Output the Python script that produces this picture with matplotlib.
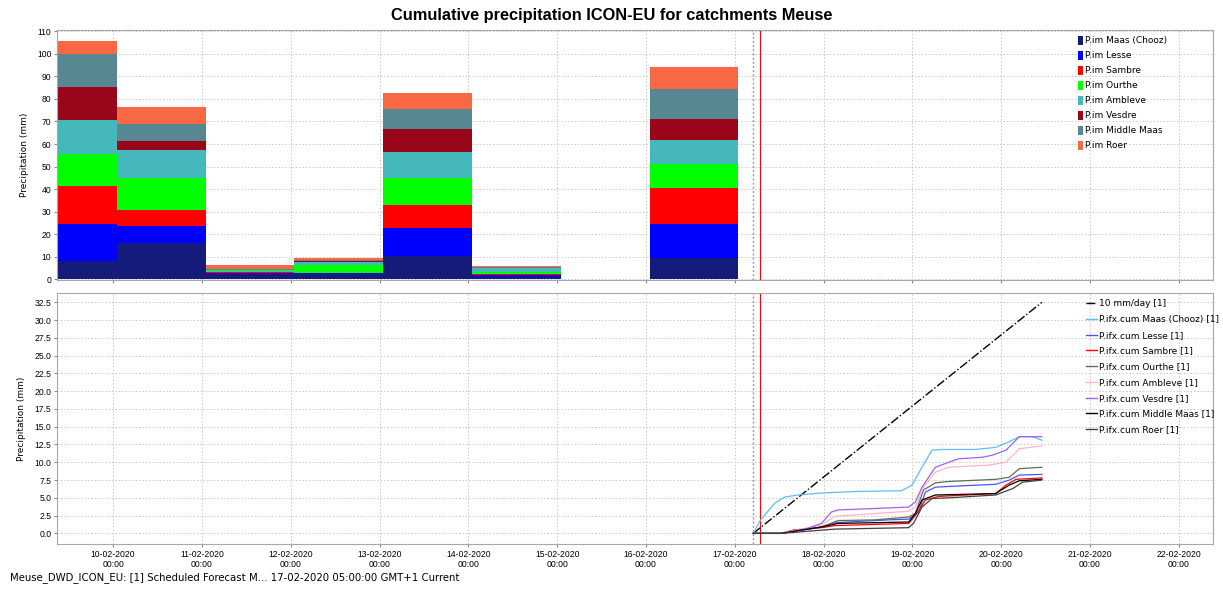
import numpy as np
import matplotlib
matplotlib.use('Agg')
from matplotlib import pyplot as plt
import matplotlib.dates as mdates
from matplotlib.patches import Patch
from matplotlib.lines import Line2D
from datetime import datetime

# daily precipitation per catchment (mm), one bar per day
bar_days = ['2020-02-09', '2020-02-10', '2020-02-11', '2020-02-12',
            '2020-02-13', '2020-02-14', '2020-02-15', '2020-02-16']
maas = [8.1, 16.1, 2.5, 2.5, 10.3, 1.0, 0, 9.6]
lesse = [16.6, 7.7, 0.4, 0.2, 12.3, 1.1, 0, 15.1]
sambre = [16.5, 6.8, 0.2, 0.3, 10.5, 0.1, 0, 15.7]
ourthe = [14.5, 14.3, 0.7, 3.2, 11.8, 1.1, 0, 10.9]
ambleve = [14.8, 12.3, 0.4, 1.6, 11.4, 1.8, 0, 10.3]
vesdre = [14.8, 4.1, 0.1, 0.2, 10.5, 0.1, 0, 9.7]
middle_maas = [14.5, 7.6, 0.4, 0.7, 8.9, 0.2, 0, 13.0]
roer = [5.7, 7.5, 1.7, 0.6, 6.8, 0.5, 0, 9.9]

bar_labels = ['P.im Maas (Chooz)', 'P.im Lesse', 'P.im Sambre', 'P.im Ourthe',
              'P.im Ambleve', 'P.im Vesdre', 'P.im Middle Maas', 'P.im Roer']

# cumulative forecast, hours since 17-02-2020 00:00
ref_h = [5, 83]
ref_v = [0, 32.5]
chooz_h = [5, 7, 10.7, 13.4, 17, 24.3, 33.3, 45.1, 47.9, 50.6, 53.3, 56, 65.1, 70.5, 74.2, 76.9, 80.5, 83]
chooz_v = [0, 1.9, 4.2, 5.1, 5.4, 5.7, 5.9, 6.0, 6.8, 9.3, 11.7, 11.8, 11.8, 12.1, 12.9, 13.6, 13.6, 13.1]
lesse_h = [5, 12.5, 23.4, 27.0, 41.5, 47.0, 49.7, 51.5, 54.2, 57.8, 70.5, 74.2, 76.9, 83]
lesse_v = [0, 0, 0.9, 1.5, 1.9, 2.0, 3.0, 5.8, 6.5, 6.6, 6.9, 7.5, 8.2, 8.3]
sambre_h = [5, 12.5, 16.1, 23.4, 27.0, 47.0, 49.2, 51.5, 55.1, 70.5, 73.3, 76.0, 83]
sambre_v = [0, 0, 0.5, 0.8, 1.1, 1.4, 2.8, 4.7, 5.2, 5.6, 6.8, 7.6, 7.8]
ourthe_h = [5, 12.5, 23.4, 27.9, 37.9, 47.0, 48.8, 51.0, 54.2, 57.8, 70.5, 74.2, 76.9, 83]
ourthe_v = [0, 0, 0.9, 1.8, 1.9, 2.3, 2.8, 6.1, 7.1, 7.3, 7.6, 7.9, 9.1, 9.3]
ambleve_h = [5, 12.5, 23.4, 27.0, 37.9, 47.0, 48.8, 51.0, 54.2, 57.8, 68.7, 73.3, 76.9, 83]
ambleve_v = [0, 0, 1.2, 2.4, 2.8, 3.1, 3.7, 6.5, 8.6, 9.3, 9.6, 10.0, 11.9, 12.3]
vesdre_h = [5, 12.5, 19.7, 23.4, 26.1, 27.9, 37.9, 47.0, 48.8, 50.6, 54.2, 57.8, 60.6, 66.9, 69.6, 73.3, 76.9, 83]
vesdre_v = [0, 0, 0.7, 1.4, 3.0, 3.3, 3.5, 3.7, 4.4, 6.5, 9.3, 10.0, 10.5, 10.7, 11.0, 11.7, 13.6, 13.6]
middle_h = [5, 12.5, 23.4, 27.9, 47.0, 48.8, 50.6, 54.2, 70.5, 74.2, 76.9, 83]
middle_v = [0, 0, 0.9, 1.4, 1.6, 2.8, 4.7, 5.4, 5.6, 6.8, 7.4, 7.6]
roer_h = [5, 12.5, 27.0, 47.0, 48.3, 50.6, 53.3, 57.8, 70.5, 75.1, 77.8, 83]
roer_v = [0, 0, 0.6, 0.8, 1.4, 3.7, 4.9, 5.0, 5.4, 6.3, 7.2, 7.5]

line_labels = ['10 mm/day [1]', 'P.ifx.cum Maas (Chooz) [1]', 'P.ifx.cum Lesse [1]',
               'P.ifx.cum Sambre [1]', 'P.ifx.cum Ourthe [1]', 'P.ifx.cum Ambleve [1]',
               'P.ifx.cum Vesdre [1]', 'P.ifx.cum Middle Maas [1]', 'P.ifx.cum Roer [1]']

bar_colors = ['#151b7a', '#0000ff', '#ff0000', '#00ff00',
              '#45b8bb', '#990519', '#578892', '#f96845']
line_colors = ['#5bc0f5', '#5050ff', '#ff0000', '#5a7050',
               '#ffb6c1', '#a060f0', '#000000', '#404040']

base = mdates.date2num(datetime(2020, 2, 17))
x_min = mdates.date2num(datetime(2020, 2, 9, 8, 50))
x_max = mdates.date2num(datetime(2020, 2, 22, 9, 10))
t_forecast = base + 5 / 24.
t_now = base + 6.75 / 24.

fig = plt.figure(figsize=(12.23, 5.92), dpi=100)
ax1 = fig.add_axes([0.0466, 0.527, 0.945, 0.4225])
ax2 = fig.add_axes([0.0466, 0.081, 0.945, 0.424])

grid_kw = dict(color='#c8c8c8', linestyle=(0, (1.5, 2)), linewidth=0.7)
for ax in (ax1, ax2):
    ax.set_xlim(x_min, x_max)
    ax.xaxis.set_major_locator(mdates.DayLocator())
    ax.xaxis.set_major_formatter(mdates.DateFormatter('%d-%m-%Y\n%H:%M'))
    ax.grid(True, **grid_kw)
    ax.set_axisbelow(True)
    for s in ax.spines.values():
        s.set_color('#a8a8a8')
    ax.tick_params(axis='both', labelsize=6.2, length=2, color='#888888', pad=2)
    for lbl in ax.get_xticklabels() + ax.get_yticklabels():
        lbl.set_family('Liberation Sans')
    ax.set_ylabel('Precipitation (mm)', fontsize=6.5, labelpad=6)
    ax.axvline(t_forecast, color='#999999', linestyle=(0, (1.5, 1.5)), linewidth=1)
    ax.axvline(t_now, color='#ff0000', linewidth=0.8)

# top: stacked daily bars
x_bars = mdates.datestr2num(bar_days) + 1 / 24.
series = [maas, lesse, sambre, ourthe, ambleve, vesdre, middle_maas, roer]
bottom = np.zeros(len(bar_days))
for vals, col, lab in zip(series, bar_colors, bar_labels):
    ax1.bar(x_bars, vals, width=1.0, bottom=bottom, align='edge', color=col,
            linewidth=0, label=lab)
    bottom = bottom + np.array(vals)
ax1.set_ylim(-0.3, 110.6)
ax1.set_yticks(np.arange(0, 111, 10))
ax1.tick_params(axis='x', labelbottom=False)
fig.text(0.5, 0.974, 'Cumulative precipitation ICON-EU for catchments Meuse',
         fontsize=11.8, fontweight='bold', family='Liberation Sans',
         ha='center', va='center')

handles = [Patch(facecolor=c, edgecolor='none') for c in bar_colors]
ax1.legend(handles, bar_labels, loc='upper left', bbox_to_anchor=(0.88, 0.99),
           frameon=False, fontsize=6.5, handlelength=0.55, handleheight=1.1,
           handletextpad=0.3, labelspacing=0.62, borderaxespad=0)

# bottom: cumulative forecast lines
ax2.plot(base + np.array(ref_h) / 24., ref_v, color='black', linestyle='-.', linewidth=1)
curves = [(chooz_h, chooz_v), (lesse_h, lesse_v), (sambre_h, sambre_v),
          (ourthe_h, ourthe_v), (ambleve_h, ambleve_v), (vesdre_h, vesdre_v),
          (middle_h, middle_v), (roer_h, roer_v)]
for (h, v), col in zip(curves, line_colors):
    ax2.plot(base + np.array(h) / 24., v, color=col, linewidth=0.9)
ax2.set_ylim(-1.5, 33.8)
ax2.set_yticks(np.arange(0, 33, 2.5))
ax2.yaxis.set_major_formatter(matplotlib.ticker.FormatStrFormatter('%.1f'))

lhandles = [Line2D([], [], color='black', linestyle='-.', linewidth=1)]
lhandles += [Line2D([], [], color=c, linewidth=1) for c in line_colors]
ax2.legend(lhandles, line_labels, loc='upper left', bbox_to_anchor=(0.887, 0.99),
           frameon=False, fontsize=6.5, handlelength=1.2, handletextpad=0.3,
           labelspacing=0.75, borderaxespad=0)

fig.text(0.008, 0.024, 'Meuse_DWD_ICON_EU: [1] Scheduled Forecast M... 17-02-2020 05:00:00 GMT+1 Current',
         fontsize=7.3, ha='left', va='center')

fig.savefig('out.png', dpi=100)
